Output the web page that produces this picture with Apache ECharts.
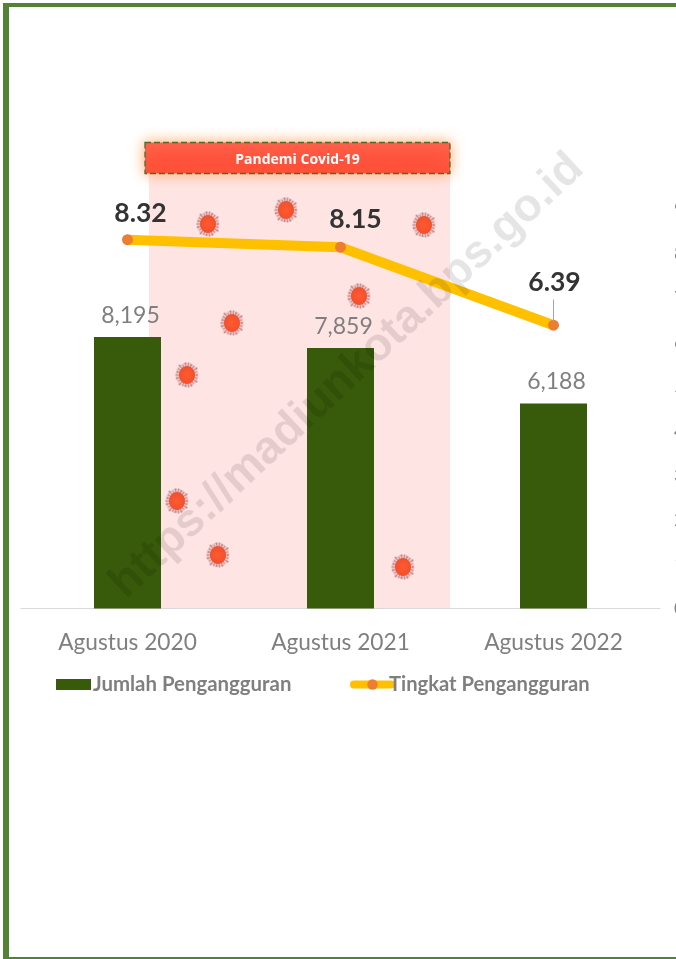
<!DOCTYPE html>
<html>
<head>
<meta charset="utf-8">
<style>html,body{margin:0;padding:0;background:#fff;overflow:hidden}#c{width:676px;height:959px}</style>
<script src="https://cdn.jsdelivr.net/npm/echarts@6/dist/echarts.min.js"></script>
</head>
<body>
<div id="c"></div>
<script>
const categories = ['Agustus 2020', 'Agustus 2021', 'Agustus 2022'];
const jumlahPengangguran = [8195, 7859, 6188];
const tingkatPengangguran = [8.32, 8.15, 6.39];
const barName = 'Jumlah Pengangguran';
const lineName = 'Tingkat Pengangguran';
const bandTitle = 'Pandemi Covid-19';
const watermark = 'https://madiunkota.bps.go.id';
const virusCentres = [[208,224],[286,210],[424,225],[359,296],[232,323],[187,375],[177,501],[218,555],[403,567]];

const chart = echarts.init(document.getElementById('c'), null, {renderer:'canvas', width:676, height:959});
const FONT = 'Lato';
const GREY = '#7f7f7f';

function virus(cx, cy) {
  const kids = [{type:'ellipse', shape:{cx:0, cy:0, rx:11.5, ry:12.5}, style:{fill:'rgba(190,120,120,0.28)'}}];
  const N = 22;
  for (let i = 0; i < N; i++) {
    const a = i / N * Math.PI * 2;
    const r2 = 10 + (i % 3) * 0.8;
    kids.push({type:'line', shape:{x1:Math.cos(a)*7, y1:Math.sin(a)*8, x2:Math.cos(a)*r2, y2:Math.sin(a)*(r2+1)},
      style:{stroke:'#bb7f7d', lineWidth:1.2, opacity:.7}});
    if (i % 2 === 0) kids.push({type:'circle', shape:{cx:Math.cos(a)*r2, cy:Math.sin(a)*(r2+1), r:1}, style:{fill:'#b87778', opacity:.6}});
  }
  kids.push({type:'ellipse', shape:{cx:0, cy:0, rx:8, ry:9},
    style:{fill:{type:'radial', x:.5, y:.5, r:.6, colorStops:[{offset:0,color:'#ff5a30'},{offset:.8,color:'#f4502d'},{offset:1,color:'#e25a45'}]}}});
  return {type:'group', x:cx, y:cy, z:5, children:kids};
}

const elements = [
  {type:'rect', z:0, shape:{x:149, y:174, width:301, height:435}, style:{fill:'#ffe4e4'}},
  {type:'rect', z:6, shape:{x:145, y:142.5, width:305, height:31},
    style:{fill:{type:'linear', x:0, y:0, x2:0, y2:1, colorStops:[{offset:0,color:'#ff5c49'},{offset:1,color:'#ff4a32'}]},
      stroke:'#4f6a2a', lineWidth:1.3, lineDash:[6,3], shadowBlur:14, shadowColor:'#ffa868'}},
  {type:'text', z:7, x:297.5, y:160, style:{text:bandTitle, fill:'#fff', font:'bold 14px "Open Sans"', align:'center', verticalAlign:'middle'}},
  ...virusCentres.map(p => virus(p[0], p[1])),
  {type:'text', z:100, x:347, y:376, rotation:43*Math.PI/180,
    style:{text:watermark, fill:'rgba(0,0,0,0.10)', font:'bold 46px "Liberation Sans"', align:'center', verticalAlign:'middle'}},
  {type:'rect', z:90, shape:{x:3, y:3, width:673, height:4}, style:{fill:'#548235'}},
  {type:'rect', z:90, shape:{x:3, y:3, width:6, height:956}, style:{fill:'#548235'}},
  {type:'rect', z:90, shape:{x:3, y:957, width:673, height:2}, style:{fill:'#548235'}}
];

chart.setOption({
  animation:false,
  backgroundColor:'#fff',
  grid:{left:21, right:16, top:209.5, bottom:350.5, outerBoundsMode:'none', containLabel:false},
  legend:[
    {left:56, top:674.5, padding:0, itemWidth:35, itemHeight:11, data:[{name:barName, icon:'rect'}], selectedMode:false,
     textStyle:{fontFamily:FONT, fontWeight:'bold', fontSize:20.4, color:GREY, padding:[0,0,0,-3]}},
    {left:350, top:674.5, padding:0, itemWidth:37, itemHeight:13, data:[lineName], selectedMode:false,
     lineStyle:{width:8, cap:'round'},
     textStyle:{fontFamily:FONT, fontWeight:'bold', fontSize:20.2, color:GREY, padding:[0,0,0,-7]}}
  ],
  xAxis:{type:'category', data:categories,
    axisLine:{lineStyle:{color:'#d9d9d9', width:1}}, axisTick:{show:false},
    axisLabel:{fontFamily:FONT, fontSize:22.7, color:GREY, margin:23}},
  yAxis:[
    {type:'value', min:0, max:12040, show:false},
    {type:'value', min:0, max:9, interval:1, position:'right', splitLine:{show:false},
     axisLine:{show:false}, axisTick:{show:false},
     axisLabel:{fontFamily:FONT, fontSize:20, color:GREY, margin:14, align:'left'}}
  ],
  graphic:{elements},
  series:[
    {name:barName, type:'bar', data:jumlahPengangguran, barWidth:67, z:3,
     itemStyle:{color:'#375b0a'},
     label:{show:true, position:'top', distance:10, offset:[3,0], fontFamily:FONT, fontSize:23, color:GREY,
       formatter:p => p.value.toLocaleString('en-US')}},
    {name:lineName, type:'line', yAxisIndex:1, data:[
        {value:tingkatPengangguran[0], label:{offset:[13,-1]}},
        {value:tingkatPengangguran[1], label:{offset:[15,-3]}},
        {value:tingkatPengangguran[2], label:{offset:[1,-18]}}
      ], z:4,
     symbol:'circle', symbolSize:11, showSymbol:true,
     lineStyle:{color:'#ffc000', width:10, cap:'butt', join:'miter'},
     itemStyle:{color:'#ed7d31', borderWidth:0},
     label:{show:true, position:'top', distance:6, fontFamily:FONT, fontWeight:'bold', fontSize:26.5, color:'#333',
       formatter:p => p.value.toFixed(2)},
     markLine:{silent:true, symbol:'none', label:{show:false}, lineStyle:{color:'#a6a6a6', width:1, type:'solid'},
       data:[[{xAxis:categories[2], yAxis:tingkatPengangguran[2]+0.08}, {xAxis:categories[2], yAxis:tingkatPengangguran[2]+0.58}]]}}
  ]
});
</script>
</body>
</html>
